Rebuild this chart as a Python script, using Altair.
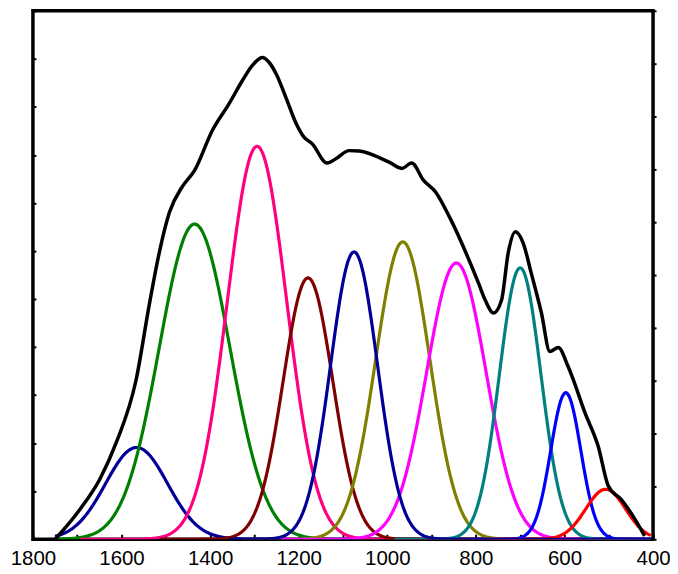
import altair as alt
import numpy as np
import pandas as pd

# ---- fitted peak components ----
peak_names = ["p1566", "p1435", "p1294", "p1179", "p965", "p844", "p702", "p597", "p507", "p1075"]
peak_centers = [1566, 1435, 1294, 1179, 965, 844, 700, 597, 507, 1075]
peak_sigmas = [70, 80, 67, 56, 61, 67, 47, 34, 45, 53]
peak_heights = [1.91, 6.56, 8.18, 5.44, 6.19, 5.75, 5.65, 3.05, 1.04, 5.98]
peak_starts = [1750, 1750, 1694, 1514, 1331, 1246, 984, 801, 777, 1357]
peak_end = 405
peak_colors = ["#000099", "#008000", "#FF0080", "#800000", "#808000",
               "#FF00FF", "#008080", "#0000FF", "#FF0000", "#000099"]

# ---- measured envelope (black) ----
env_x = [1750, 1694, 1649, 1612, 1567, 1537, 1514, 1492, 1462, 1435, 1395, 1357, 1327,
         1305, 1282, 1267, 1251, 1229, 1206, 1188, 1170, 1136, 1116, 1086, 1064, 996,
         967, 945, 918, 891, 858, 794, 779, 760, 742, 727, 711, 693, 675, 652, 633, 614,
         592, 580, 554, 524, 501, 472, 441, 419]
env_y = [0.00, 0.62, 1.25, 2.01, 3.32, 4.90, 6.00, 6.80, 7.35, 7.68, 8.51, 9.07, 9.55,
         9.86, 10.03, 9.93, 9.69, 9.20, 8.66, 8.37, 8.24, 7.83, 7.92, 8.09, 8.08, 7.85,
         7.72, 7.83, 7.47, 7.23, 6.68, 5.33, 4.98, 4.71, 4.98, 5.96, 6.40, 6.16, 5.54,
         4.71, 3.91, 3.99, 3.60, 3.32, 2.64, 1.94, 1.11, 0.83, 0.42, 0.07]

# axis ticks
x_labels = [1800, 1600, 1400, 1200, 1000, 800, 600, 400]
x_ticks = list(range(1800, 399, -100))
y_left_ticks = [i * 1.0 for i in range(0, 12)]
y_right_ticks = [round(i * 1.1, 2) for i in range(0, 11)]

W, H = 622, 530
x_scale = alt.Scale(domain=[400, 1800], reverse=True, nice=False, zero=False)
y_scale = alt.Scale(domain=[0, 11], nice=False, zero=False)

layers = []
for i, name in enumerate(peak_names):
    xs = np.arange(peak_starts[i], peak_end - 0.1, -2.0)
    ys = peak_heights[i] * np.exp(-((xs - peak_centers[i]) ** 2) / (2 * peak_sigmas[i] ** 2))
    df = pd.DataFrame({"x": xs, "y": ys})
    if i == 0:
        xax = alt.Axis(values=x_labels, format="d", ticks=False, tickSize=0, domain=False,
                       grid=False, labelFontSize=20.5, labelFont="Liberation Sans",
                       labelColor="black", labelPadding=9, labelFlush=False,
                       labelOverlap=False, labelBound=False, title=None, orient="bottom")
        yax = alt.Axis(values=y_left_ticks, labels=False, domain=False, grid=False,
                       tickSize=3, tickWidth=2, tickColor="black", title=None,
                       orient="right", offset=-W)
    else:
        xax = None
        yax = None
    layer = alt.Chart(df).mark_line(color=peak_colors[i], strokeWidth=3.2, clip=True).encode(
        x=alt.X("x:Q", scale=x_scale, axis=xax),
        y=alt.Y("y:Q", scale=y_scale, axis=yax),
    )
    layers.append(layer)

env_df = pd.DataFrame({"x": env_x, "y": env_y})
env = alt.Chart(env_df).mark_line(color="black", strokeWidth=3.5, interpolate="monotone").encode(
    x=alt.X("x:Q", scale=x_scale,
            axis=alt.Axis(values=x_ticks, labels=False, domain=False, grid=False,
                          tickSize=5, tickWidth=2, tickColor="black", title=None,
                          orient="top", offset=-H)),
    y=alt.Y("y:Q", scale=y_scale,
            axis=alt.Axis(values=y_right_ticks, labels=False, domain=False, grid=False,
                          tickSize=3, tickWidth=2, tickColor="black", title=None,
                          orient="right")),
)
layers.append(env)

chart = alt.layer(*layers).resolve_axis(x="independent", y="independent").properties(
    width=W, height=H,
    autosize=alt.AutoSizeParams(type="none"),
    padding={"left": 25, "top": 2, "right": 17, "bottom": 28},
    background="white",
).configure_view(stroke="black", strokeWidth=3.5)

chart.save("out.html", embed_options={"renderer": "svg", "actions": False})
